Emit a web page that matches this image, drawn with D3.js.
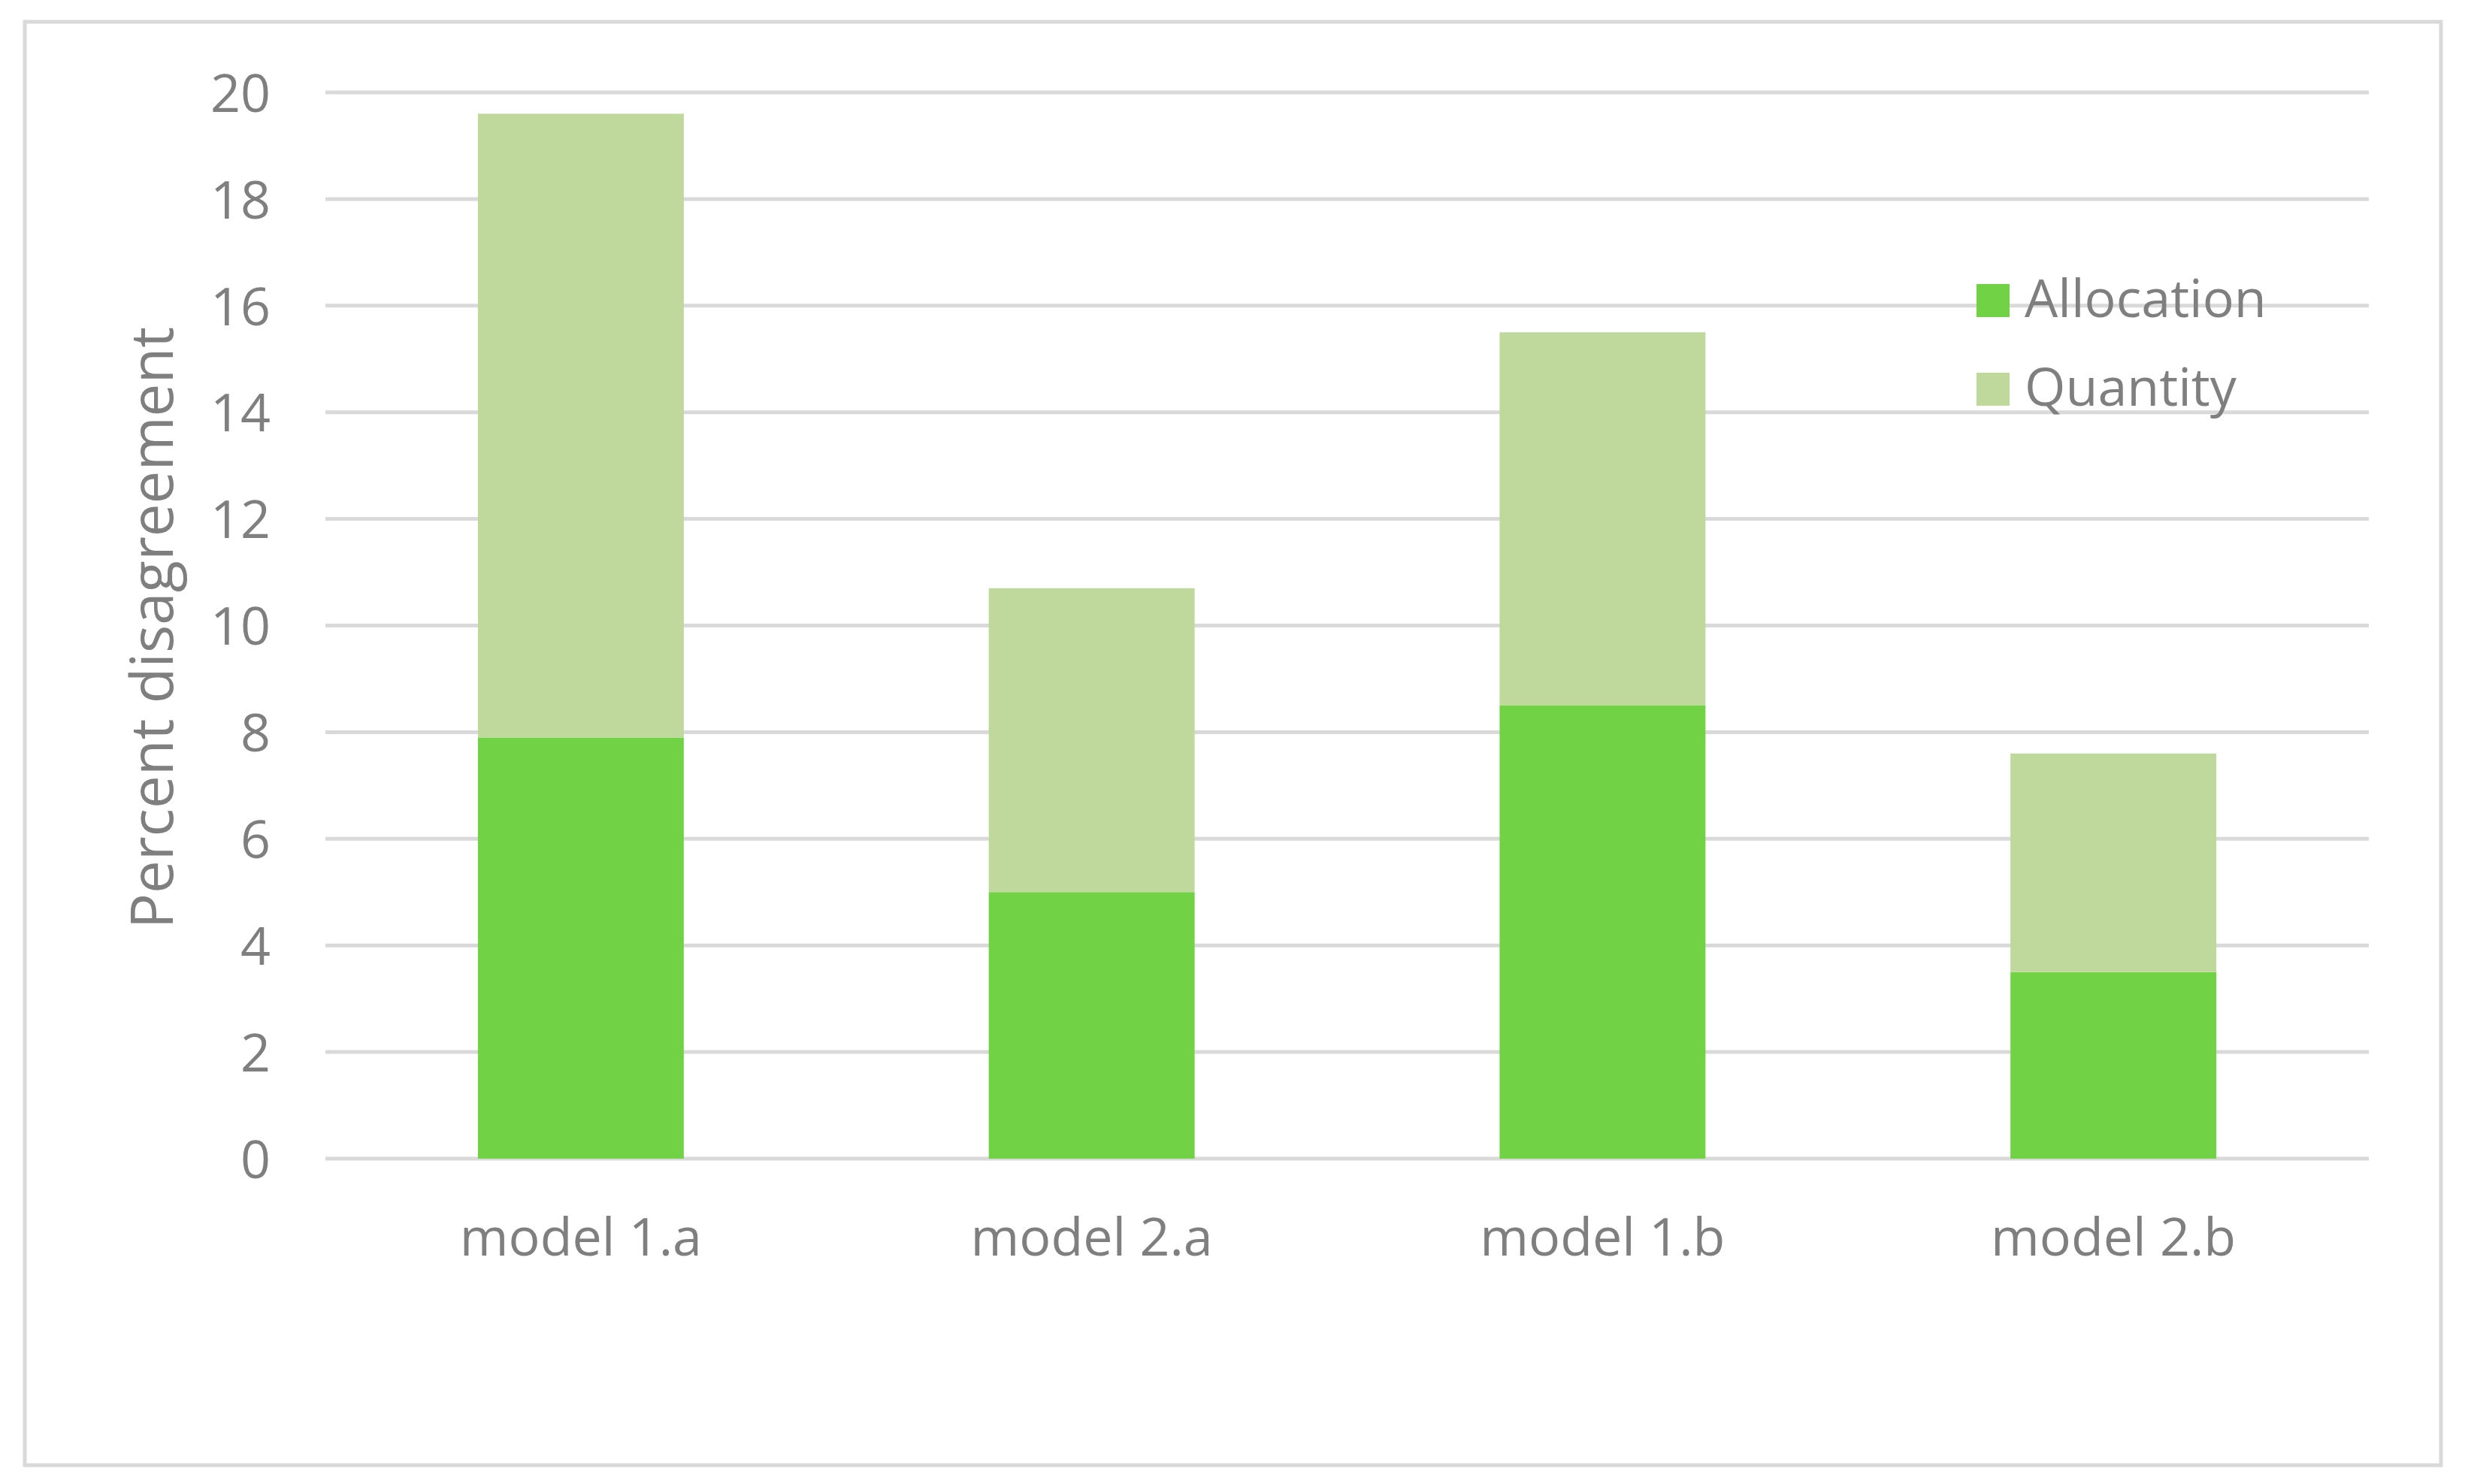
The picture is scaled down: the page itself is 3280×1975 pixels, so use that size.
<!DOCTYPE html>
<head>
  <meta charset="utf-8">
  <script src="https://d3js.org/d3.v7.min.js"></script>
  <style>
    body { margin:0; background:#fff; }
    text { font-family: "Open Sans", sans-serif; fill: #7f7f7f; }
    .grid line { stroke: #d9d9d9; stroke-width: 5; }
  </style>
</head>

<body>
  <script>
  // ---------- data ----------
    var models = ["model 1.a", "model 2.a", "model 1.b", "model 2.b"];
    var allocation = [7.9, 5.0, 8.5, 3.5];
    var quantity = [11.7, 5.7, 7.0, 4.1];
    var seriesNames = ["Allocation", "Quantity"];
    var seriesColors = ["#70d244", "#bfd89b"];
    var yTicks = [0, 2, 4, 6, 8, 10, 12, 14, 16, 18, 20];

    var rows = models.map(function(m, i) {
      return { model: m, Allocation: allocation[i], Quantity: quantity[i] };
    });

  // ---------- svg ----------
    var width = 3280, height = 1975;
    var svg = d3.select("body").append("svg")
      .attr("width", width)
      .attr("height", height);

    // chart border
    svg.append("rect")
      .attr("x", 33)
      .attr("y", 29)
      .attr("width", 3215)
      .attr("height", 1921)
      .attr("fill", "none")
      .attr("stroke", "#d9d9d9")
      .attr("stroke-width", 5);

    var plot = { left: 433, right: 3152, top: 123, bottom: 1542 };

    var x = d3.scaleBand()
      .domain(models)
      .range([plot.left, plot.right])
      .paddingInner(0.597)
      .paddingOuter(0.2985);

    var y = d3.scaleLinear()
      .domain([0, 20])
      .range([plot.bottom, plot.top]);

  // ---------- gridlines ----------
    svg.append("g")
      .attr("class", "grid")
      .selectAll("line")
      .data(yTicks)
      .enter().append("line")
      .attr("x1", plot.left)
      .attr("x2", plot.right)
      .attr("y1", d => y(d))
      .attr("y2", d => y(d));

  // ---------- stacked bars ----------
    var stacked = d3.stack().keys(seriesNames)(rows);

    svg.append("g")
      .selectAll("g")
      .data(stacked)
      .enter().append("g")
      .attr("fill", (d, i) => seriesColors[i])
      .selectAll("rect")
      .data(d => d)
      .enter().append("rect")
      .attr("x", d => x(d.data.model))
      .attr("width", x.bandwidth())
      .attr("y", d => y(d[1]))
      .attr("height", d => y(d[0]) - y(d[1]));

  // ---------- y axis ----------
    var yAxis = svg.append("g")
      .attr("transform", "translate(" + 360 + ",0)")
      .call(d3.axisLeft(y).tickValues(yTicks).tickSize(0).tickPadding(0));
    yAxis.select(".domain").remove();
    yAxis.selectAll("text")
      .style("font-size", "70px")
      .attr("fill", "#7f7f7f")
      .attr("dy", "0.36em");

  // ---------- x axis ----------
    var xAxis = svg.append("g")
      .attr("transform", "translate(0," + plot.bottom + ")")
      .call(d3.axisBottom(x).tickSize(0).tickPadding(0));
    xAxis.select(".domain").remove();
    xAxis.selectAll("text")
      .style("font-size", "70px")
      .attr("fill", "#7f7f7f")
      .attr("y", 129)
      .attr("dy", 0);

  // ---------- y title ----------
    svg.append("text")
      .attr("transform", "translate(230," + ((plot.top + plot.bottom) / 2 + 3) + ") rotate(-90)")
      .attr("text-anchor", "middle")
      .style("font-size", "78px")
      .text("Percent disagreement");

  // ---------- legend ----------
    var legend = svg.append("g")
      .attr("transform", "translate(2630,378)");

    var item = legend.selectAll("g")
      .data(seriesNames)
      .enter().append("g")
      .attr("transform", (d, i) => "translate(0," + (i * 118) + ")");

    item.append("rect")
      .attr("width", 44)
      .attr("height", 44)
      .attr("fill", (d, i) => seriesColors[i]);

    item.append("text")
      .attr("x", 64)
      .attr("y", 44)
      .style("font-size", "70px")
      .text(d => d);
  </script>
</body>
